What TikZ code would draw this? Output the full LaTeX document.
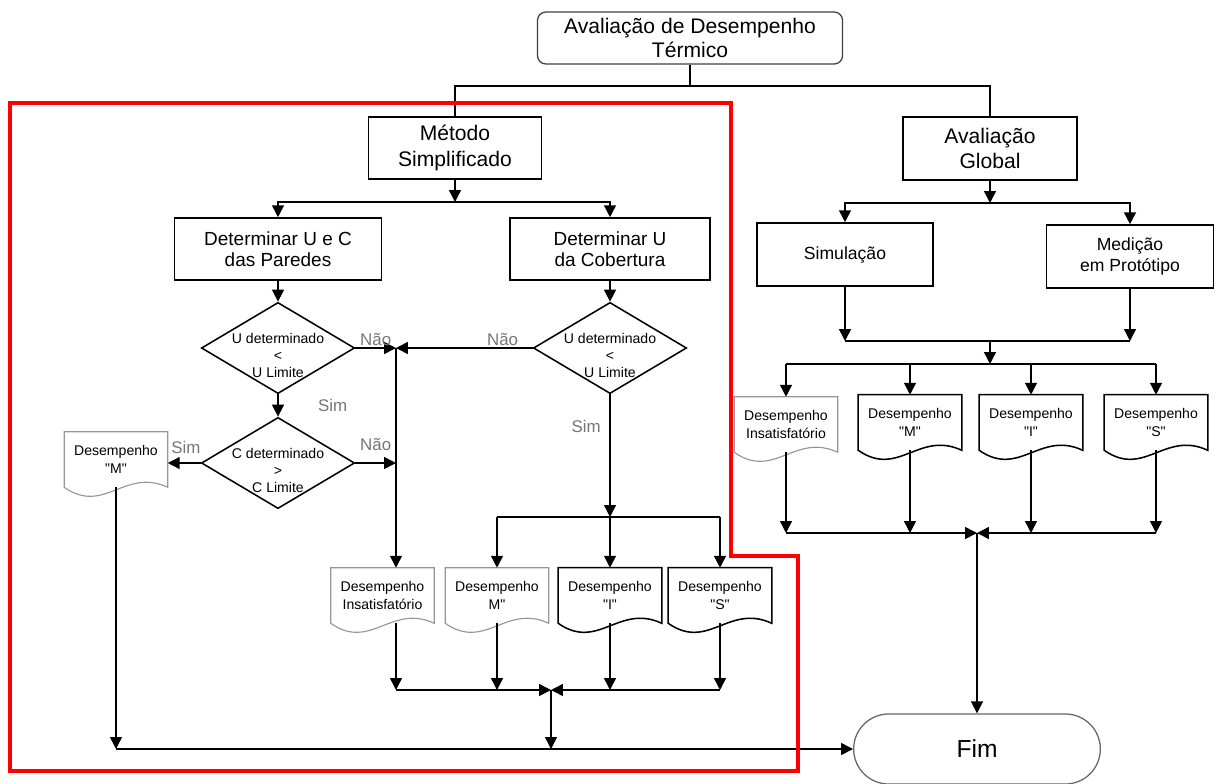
\documentclass[tikz,border=0pt]{standalone}
\usepackage{fontspec}
\setmainfont{Liberation Sans}[Ligatures=TeXOff]
\usepackage{tikz}
\usetikzlibrary{arrows.meta,shapes.geometric,shapes.misc}
\definecolor{cinzarotulo}{RGB}{118,118,118}
\definecolor{cinzadoc}{RGB}{150,150,150}
\newcommand\aspas{\symbol{34}}
\tikzset{
>={Triangle[length=8.5pt,width=8.5pt]},
  titulo/.style={
    rectangle,
    rounded corners=6pt,
    draw=black!75, line width=0.9pt,
    minimum width=7.625cm,
    minimum height=1.3cm,
    align=center,
    font=\fontsize{15}{17}\selectfont},
  caixa/.style={
    rectangle,
    draw=black, line width=1.1pt,
    align=center,
    inner sep=2pt},
  caixagrande/.style={caixa, font=\fontsize{15}{18}\selectfont},
  caixamedia/.style={caixa, minimum height=1.55cm, font=\fontsize{13.5}{15}\selectfont},
  caixapequena/.style={caixa, minimum height=1.575cm, font=\fontsize{12.5}{15}\selectfont},
  losango/.style={
    diamond,
    draw=black, line width=1.1pt,
    inner sep=0pt,
    minimum width=3.83cm,
    minimum height=2.28cm},
  textolosango/.style={align=center, inner sep=0pt, yshift=-5.5pt,
    font=\fontsize{10}{12}\selectfont},
  documento/.style={
    rectangle, inner sep=1pt,
    minimum width=2.575cm,
    minimum height=1.375cm,
    align=center,
    font=\fontsize{10}{13}\selectfont,
    append after command={\pgfextra{
      \draw[#1] (\tikzlastnode.north west) -- (\tikzlastnode.north east)
        -- (\tikzlastnode.south east)
        .. controls +(-1.075cm,0.5cm) and +(1cm,-0.7cm) .. (\tikzlastnode.south west)
        -- cycle;}}},
  documento/.default={draw=black, line width=1.1pt},
  docclaro/.style={documento={draw=cinzadoc, line width=0.8pt}},
  terminal/.style={
    rounded rectangle,
    draw=black!60, line width=0.9pt,
    minimum width=6.4cm,
    minimum height=1.75cm,
    font=\fontsize{17.5}{20}\selectfont},
  linha/.style={draw, line width=1.1pt},
  seta/.style={draw, line width=1.1pt, ->},
  rotulo/.style={text=cinzarotulo, inner sep=1pt, font=\fontsize{12}{14}\selectfont},
  destaque/.style={draw=red, line width=3pt},
}
\begin{document}
\begin{tikzpicture}[x=0.025cm, y=-0.025cm]
    \useasboundingbox (0,0) rectangle (1216,783);
    \node[titulo] (aval) at (690,38) {Avaliação de Desempenho\\Térmico};
    \node[caixagrande, minimum width=4.325cm, minimum height=1.55cm] (metodo) at (455,148) {Método\\Simplificado};
    \node[caixagrande, minimum width=4.35cm, minimum height=1.575cm] (aglobal) at (990,148.5) {Avaliação\\Global};
    % metodo simplificado
    \node[caixamedia, minimum width=5.175cm] (paredes) at (278,249) {Determinar U e C\\das Paredes};
    \node[caixamedia, minimum width=5cm] (cobert) at (610,249) {Determinar U\\da Cobertura};
    \node[losango, label={[textolosango]center:{U determinado\\<\\U Limite}}] (udet) at (278,348) {};
    \node[losango, label={[textolosango]center:{C determinado\\>\\C Limite}}] (cdet) at (278,463) {};
    \node[losango, label={[textolosango]center:{U determinado\\<\\U Limite}}] (ucob) at (610,348) {};
    \node[docclaro] (dmp)  at (116,459.5) {Desempenho\\\aspas M\aspas};
    \node[docclaro] (dins) at (382.5,595.5) {Desempenho\\Insatisfatório};
    \node[docclaro] (dm)   at (497,595.5) {Desempenho\\M\aspas};
    \node[documento] (di)  at (610,595.5) {Desempenho\\\aspas I\aspas};
    \node[documento] (ds)  at (720,595.5) {Desempenho\\\aspas S\aspas};
    % avaliacao global
    \node[caixapequena, minimum width=4.4cm] (simul) at (845,254.5) {Simulação};
    \node[caixapequena, minimum width=4.175cm] (medic) at (1130,256.5) {Medição\\em Protótipo};
    \node[docclaro] (gins) at (786,424.5) {Desempenho\\Insatisfatório};
    \node[documento] (gm)  at (910,422.5) {Desempenho\\\aspas M\aspas};
    \node[documento] (gi)  at (1031,422.5) {Desempenho\\\aspas I\aspas};
    \node[documento] (gs)  at (1156,422.5) {Desempenho\\\aspas S\aspas};
    \node[terminal] (fim) at (977,749) {Fim};

    \coordinate (ramo)  at (690,86);
    \coordinate (bifm)  at (455,202);
    \coordinate (naoa)  at (396,348);
    \coordinate (bifc)  at (610,517);
    \coordinate (unira) at (551,690);
    \coordinate (basef) at (551,749);
    \coordinate (bifg)  at (990,203);
    \coordinate (unirg) at (990,341);
    \coordinate (bifr)  at (990,364);
    \coordinate (unirr) at (977,533);

    \draw[linha] (aval.south) -- (ramo);
    \draw[linha] (metodo.north) |- (ramo) -| (aglobal.north);
    % ramo esquerdo
    \draw[seta] (metodo) -- (bifm);
    \draw[seta] (bifm) -| (paredes);
    \draw[seta] (bifm) -| (cobert);
    \draw[seta] (paredes) -- (udet);
    \draw[seta] (udet) -- (cdet) node[rotulo, midway, right=0.95cm] {Sim};
    \draw[seta] (udet.east) -- (naoa) node[rotulo, midway, above] {Não};
    \draw[seta] (ucob.west) -- (naoa) node[rotulo, pos=0.22, above] {Não};
    \draw[seta] (cdet.east) -- (cdet.east -| naoa) node[rotulo, midway, above=7pt] {Não};
    \draw[seta] (cdet.west) -- (cdet.west -| dmp.east) node[rotulo, pos=0.45, above=5pt] {Sim};
    \draw[seta] (naoa) -- (naoa |- dins.north);
    \draw[seta] (cobert) -- (ucob);
    \draw[seta] (ucob) -- (bifc) node[rotulo, pos=0.26, left=5pt] {Sim};
    \draw[linha] (bifc -| dm) -- (bifc -| ds);
    \foreach \d in {dm,di,ds}
        \draw[seta] (bifc -| \d) -- (\d);
    \draw[seta] (dins.south -| naoa) -- (unira -| naoa);
    \foreach \d in {dm,di,ds}
        \draw[seta] (\d.south) -- (\d.south |- unira);
    \draw[seta] (unira -| naoa) -- (unira);
    \draw[seta] (unira -| ds) -- (unira);
    \draw[seta] (unira) -- (basef);
    \draw[seta] (dmp.south) -- (dmp.south |- basef);
    \draw[seta] (dmp.south |- basef) -- (fim.west);
    % ramo direito
    \draw[seta] (aglobal) -- (bifg);
    \draw[seta] (bifg) -| (simul);
    \draw[seta] (bifg) -| (medic);
    \draw[seta] (simul) -- (simul |- unirg);
    \draw[seta] (medic) -- (medic |- unirg);
    \draw[linha] (simul |- unirg) -- (medic |- unirg);
    \draw[seta] (unirg) -- (bifr);
    \draw[linha] (bifr -| gins) -- (bifr -| gs);
    \foreach \d in {gins,gm,gi,gs}
        \draw[seta] (bifr -| \d) -- (\d);
    \foreach \d in {gins,gm,gi,gs}
        \draw[seta] (\d.south) -- (\d.south |- unirr);
    \draw[seta] (unirr -| gins) -- (unirr);
    \draw[seta] (unirr -| gs) -- (unirr);
    \draw[seta] (unirr) -- (fim);

    \draw[destaque] (10,103) -- (731,103) -- (731,556) -- (798,556) -- (798,771) -- (10,771) -- cycle;
\end{tikzpicture}
\end{document}
